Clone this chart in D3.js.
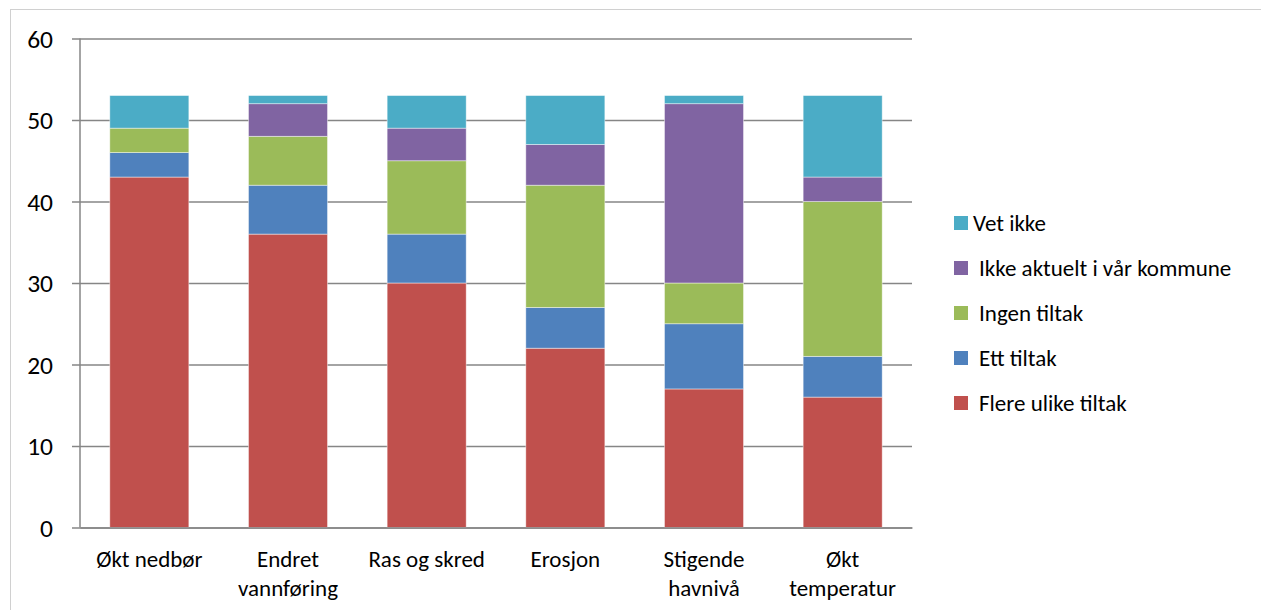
<!DOCTYPE html>
<html>
<head>
<meta charset="utf-8">
<script src="https://cdn.jsdelivr.net/npm/d3@7"></script>
<style>
  html, body { margin: 0; padding: 0; background: #fff; }
  svg { display: block; }
  text { font-family: Carlito, Calibri, Lato, "Open Sans", sans-serif; fill: #000; }
</style>
</head>
<body>
<svg id="chart" width="1261" height="610"></svg>
<script>
// Categories (two-line labels are split on "|")
const categories = ["Økt nedbør", "Endret|vannføring", "Ras og skred", "Erosjon", "Stigende|havnivå", "Økt|temperatur"];

// Series values, bottom to top of each stack
const flereUlikeTiltak = [43, 36, 30, 22, 17, 16];
const ettTiltak        = [3, 6, 6, 5, 8, 5];
const ingenTiltak      = [3, 6, 9, 15, 5, 19];
const ikkeAktuelt      = [0, 4, 4, 5, 22, 3];
const vetIkke          = [4, 1, 4, 6, 1, 10];

const seriesNames = ["Flere ulike tiltak", "Ett tiltak", "Ingen tiltak", "Ikke aktuelt i vår kommune", "Vet ikke"];
const seriesValues = [flereUlikeTiltak, ettTiltak, ingenTiltak, ikkeAktuelt, vetIkke];
const seriesColors = ["#C0504D", "#4F81BD", "#9BBB59", "#8064A2", "#4BACC6"];

const yTicks = [0, 10, 20, 30, 40, 50, 60];

const svg = d3.select("#chart");

// outer chart frame
svg.append("rect")
  .attr("x", 10.5).attr("y", 9.5)
  .attr("width", 1300).attr("height", 700)
  .attr("fill", "none").attr("stroke", "#D0D0D0").attr("stroke-width", 1);

const plot = { left: 80, right: 912, top: 38.5, bottom: 527.5 };

const x = d3.scaleBand()
  .domain(categories)
  .range([plot.left, plot.right])
  .paddingInner(0.43)
  .paddingOuter(0.215);

const y = d3.scaleLinear()
  .domain([0, 60])
  .range([plot.bottom, plot.top]);

// horizontal gridlines + tick marks
const yAxis = d3.axisLeft(y)
  .tickValues(yTicks)
  .tickSize(-(plot.right - plot.left))
  .tickSizeOuter(0)
  .tickPadding(0);

const gy = svg.append("g")
  .attr("transform", `translate(${plot.left},0)`)
  .call(yAxis);
gy.select(".domain").remove();
gy.selectAll(".tick line")
  .attr("x1", -8)
  .attr("stroke", "#868686")
  .attr("stroke-width", 1.5);
gy.selectAll(".tick text")
  .attr("x", -27)
  .attr("dy", "0.35em")
  .attr("font-size", 25.5)
  .attr("text-anchor", "end");

// stacked data
const table = categories.map((c, i) => {
  const row = { category: c };
  seriesNames.forEach((s, k) => { row[s] = seriesValues[k][i]; });
  return row;
});
const stack = d3.stack().keys(seriesNames)(table);

svg.append("g")
  .selectAll("g")
  .data(stack)
  .join("g")
  .attr("fill", (d, i) => seriesColors[i])
  .selectAll("rect")
  .data(d => d)
  .join("rect")
  .attr("x", d => x(d.data.category))
  .attr("width", x.bandwidth())
  .attr("y", d => y(d[1]))
  .attr("height", d => y(d[0]) - y(d[1]))
  .attr("stroke", "rgba(255,255,255,0.55)")
  .attr("stroke-width", 0.8);

// vertical value axis line
svg.append("line")
  .attr("x1", plot.left).attr("x2", plot.left)
  .attr("y1", plot.top).attr("y2", plot.bottom)
  .attr("stroke", "#868686").attr("stroke-width", 1.5);

// category axis
const xAxis = d3.axisBottom(x).tickSize(0).tickSizeOuter(0);
const gx = svg.append("g")
  .attr("transform", `translate(0,${plot.bottom})`)
  .call(xAxis);
gx.select(".domain")
  .attr("stroke", "#868686").attr("stroke-width", 1.5);
gx.selectAll(".tick text").each(function(d) {
  const t = d3.select(this);
  t.text(null)
    .attr("y", 0)
    .attr("dy", null)
    .attr("font-size", 23);
  d.split("|").forEach((line, i) => {
    t.append("tspan")
      .attr("x", 0)
      .attr("y", 39 + i * 29)
      .text(line);
  });
});

// legend (top entry is the top of the stack)
const legendItems = seriesNames.map((n, i) => ({ name: n, color: seriesColors[i] })).reverse();
const legend = svg.append("g")
  .selectAll("g")
  .data(legendItems)
  .join("g")
  .attr("transform", (d, i) => `translate(954,${224 + i * 45})`);
legend.append("rect")
  .attr("x", 0).attr("y", -8)
  .attr("width", 14).attr("height", 14)
  .attr("fill", d => d.color);
legend.append("text")
  .attr("x", (d, i) => i === 0 ? 19 : 25)
  .attr("dy", "0.32em")
  .attr("font-size", 23)
  .text(d => d.name);
</script>
</body>
</html>
